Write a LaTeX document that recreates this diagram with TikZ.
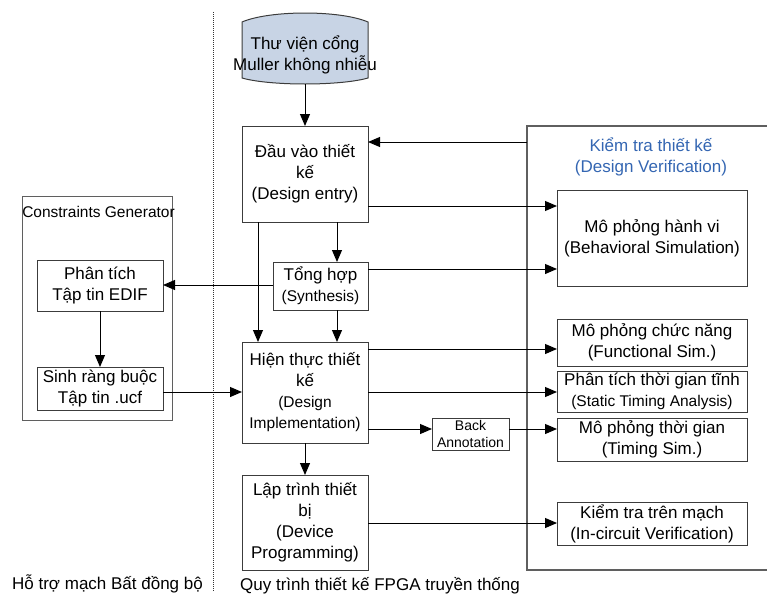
\documentclass[tikz,border=0pt]{standalone}
\usepackage{fontspec}
\setmainfont{Liberation Sans}
\usetikzlibrary{arrows.meta,calc}
\newcommand\fmain{\fontsize{17}{21}\selectfont}
\newcommand\fsmall{\fontsize{15.5}{19}\selectfont}
\newcommand\ftiny{\fontsize{14}{16.5}\selectfont}
\definecolor{cylfill}{RGB}{200,212,229}
\definecolor{boxline}{RGB}{60,60,60}
\definecolor{verline}{RGB}{95,95,95}
\definecolor{vblue}{RGB}{52,102,178}
\begin{document}
\begin{tikzpicture}[x=1pt,y=-1pt,
  box/.style={draw=boxline,line width=1pt,fill=white,align=center,inner sep=0pt,outer sep=0pt,font=\fmain},
  wbox/.style={box,minimum width=126pt},
  vbox/.style={box,minimum width=190pt},
  container/.style={draw=verline,inner sep=0pt,outer sep=0pt},
  arr/.style={-{Triangle[length=12pt,width=10pt]},line width=1pt,black},
  lbl/.style={inner sep=0pt,align=center,font=\fmain}]
\useasboundingbox (0,0) rectangle (767,597);
% separator
\draw[line width=0.8pt,dash pattern=on 1pt off 1pt,black!80] (213,12) -- (213,592);
% containers
\node[container,line width=1.3pt,minimum width=280pt,minimum height=444pt] (ver) at (667,348) {};
\node[container,line width=0.8pt,minimum width=150pt,minimum height=224pt] (cg) at (97,308) {};
\node[lbl,font=\fsmall] (cgl) at (98.5,212) {Constraints Generator};
\node[lbl,text=vblue] (vtitle) at (651,157) {Kiểm tra thiết kế\\(Design Verification)};
% cylinder
\draw[draw=boxline,line width=1pt,fill=cylfill] (242,22) .. controls (270,10) and (340,10) .. (368,22) -- (368,78) .. controls (340,86) and (270,86) .. (242,78) -- cycle;
\node[lbl,minimum width=126pt,minimum height=58pt] (cyl) at (305,55) {Thư viện cổng\\Muller không nhiễu};
\coordinate (cylb) at (305,84);
% main flow
\node[wbox,minimum height=96pt] (de) at (305,174) {Đầu vào thiết\\kế\\(Design entry)};
\node[box,minimum width=95pt,minimum height=48pt] (syn) at (320.5,286) {Tổng hợp\\\fsmall(Synthesis)};
\node[wbox,minimum height=101pt] (impl) at (305,392.5) {Hiện thực thiết\\kế\\\fsmall(Design\\\fsmall Implementation)};
\node[wbox,minimum height=95pt] (dev) at (305,522.5) {Lập trình thiết\\bị\\(Device\\Programming)};
% constraints
\node[wbox,minimum height=51pt] (edif) at (100,285.5) {Phân tích\\Tập tin EDIF};
\node[wbox,minimum height=43pt] (sinh) at (100,388.5) {Sinh ràng buộc\\Tập tin .ucf};
% verification
\node[vbox,minimum height=96pt] (beh) at (652,238) {Mô phỏng hành vi\\(Behavioral Simulation)};
\node[vbox,minimum height=47pt] (func) at (652,342.5) {Mô phỏng chức năng\\(Functional Sim.)};
\node[vbox,minimum height=41pt] (stat) at (652,391.5) {Phân tích thời gian tĩnh\\\fsmall(Static Timing Analysis)};
\node[vbox,minimum height=43pt] (tim) at (652,439.5) {Mô phỏng thời gian\\(Timing Sim.)};
\node[vbox,minimum height=43pt] (inc) at (652,523.5) {Kiểm tra trên mạch\\(In-circuit Verification)};
\node[box,font=\ftiny,minimum width=77pt,minimum height=32pt] (back) at (470.5,434) {Back\\Annotation};
% bottom labels
\node[lbl] (lblA) at (107.5,584) {Hỗ trợ mạch Bất đồng bộ};
\node[lbl] (lblB) at (380,586) {Quy trình thiết kế FPGA truyền thống};
% connectors
\draw[arr] (cylb) -- (de.north);
\draw[arr] (ver.west |- 0,142) -- (de.east |- 0,142);
\draw[arr] (de.east |- 0,206) -- (beh.west |- 0,206);
\draw[arr] (de.south -| 337,0) -- (syn.north -| 337,0);
\draw[arr] (de.south -| 258,0) -- (impl.north -| 258,0);
\draw[arr] (syn.east |- 0,269) -- (beh.west |- 0,269);
\draw[arr] (syn.west |- 0,285) -- (edif.east |- 0,285);
\draw[arr] (syn.south -| 337,0) -- (impl.north -| 337,0);
\draw[arr] (edif.south) -- (sinh.north);
\draw[arr] (sinh.east |- 0,392) -- (impl.west |- 0,392);
\draw[arr] (impl.east |- 0,349) -- (func.west |- 0,349);
\draw[arr] (impl.east |- 0,392) -- (stat.west |- 0,392);
\draw[arr] (impl.east |- 0,429) -- (back.west |- 0,429);
\draw[arr] (back.east |- 0,429) -- (tim.west |- 0,429);
\draw[arr] (impl.south) -- (dev.north);
\draw[arr] (dev.east |- 0,523) -- (inc.west |- 0,523);
\end{tikzpicture}
\end{document}
